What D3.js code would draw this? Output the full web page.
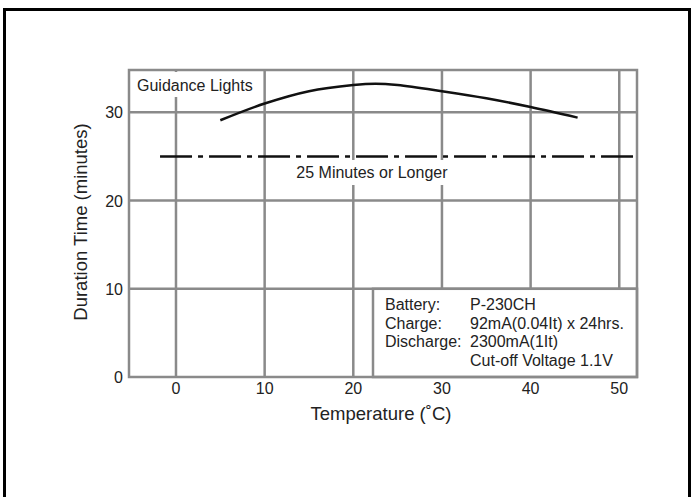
<!DOCTYPE html>
<html><head><meta charset="utf-8">
<script src="https://cdn.jsdelivr.net/npm/d3@7"></script>
<style>body{margin:0;background:#fff}svg{display:block}text{font-family:"Liberation Sans",Arial,sans-serif;fill:#222}</style>
</head><body>
<svg id="c" width="694" height="497"></svg>
<script>
const xTicks = [0, 10, 20, 30, 40, 50];
const yTicks = [0, 10, 20, 30];
const curveTemp = [5, 10, 15, 20, 22.5, 25, 30, 35, 40, 45.3];
const curveMinutes = [29.1, 31.0, 32.4, 33.1, 33.25, 33.1, 32.4, 31.6, 30.6, 29.4];
const limitTemp = [-1.8, 52];
const limitMinutes = [25, 25];
const notes = [["Battery:", "P-230CH"], ["Charge:", "92mA(0.04It) x 24hrs."], ["Discharge:", "2300mA(1It)"], ["", "Cut-off Voltage 1.1V"]];

const svg = d3.select("#c");
const x = d3.scaleLinear().domain([-5.3, 52]).range([129, 637]);
const y = d3.scaleLinear().domain([0, 34.8]).range([377, 70]);
const grid = "#8a8a8a";

// outer frame
svg.append("rect").attr("x", 4.5).attr("y", 9.5).attr("width", 685).attr("height", 500)
  .attr("fill", "none").attr("stroke", "#000").attr("stroke-width", 3);

// grid
svg.append("g").selectAll("line").data(xTicks.filter(d => d > x.domain()[0])).join("line")
  .attr("x1", d => x(d)).attr("x2", d => x(d)).attr("y1", y(0)).attr("y2", y.range()[1])
  .attr("stroke", grid).attr("stroke-width", 2.5);
svg.append("g").selectAll("line").data(yTicks.filter(d => d > 0)).join("line")
  .attr("x1", x.range()[0]).attr("x2", x.range()[1]).attr("y1", d => y(d)).attr("y2", d => y(d))
  .attr("stroke", grid).attr("stroke-width", 2.5);

// label background
svg.append("rect").attr("x", 131).attr("y", 72).attr("width", 124).attr("height", 25).attr("fill", "#fff");

// limit line
const limit = limitTemp.map((t, i) => [t, limitMinutes[i]]);
svg.append("path").datum(limit)
  .attr("d", d3.line().x(d => x(d[0])).y(d => y(d[1])))
  .attr("stroke", "#111").attr("stroke-width", 2.5).attr("fill", "none")
  .attr("stroke-dasharray", "32,6,5,6");

svg.append("rect").attr("x", 290).attr("y", 160).attr("width", 166).attr("height", 25).attr("fill", "#fff");
svg.append("text").attr("x", x(22.1)).attr("y", 178).attr("text-anchor", "middle")
  .attr("font-size", 16).text("25 Minutes or Longer");

// curve
const pts = curveTemp.map((t, i) => [t, curveMinutes[i]]);
svg.append("path").datum(pts)
  .attr("d", d3.line().x(d => x(d[0])).y(d => y(d[1])).curve(d3.curveCatmullRom))
  .attr("stroke", "#111").attr("stroke-width", 2.5).attr("fill", "none");

svg.append("text").attr("x", 137).attr("y", 91).attr("font-size", 16).text("Guidance Lights");

// note box
const bx0 = 373, by0 = y(10);
svg.append("rect").attr("x", bx0).attr("y", by0).attr("width", x.range()[1] - bx0).attr("height", y(0) - by0)
  .attr("fill", "#fff").attr("stroke", grid).attr("stroke-width", 2.5);
const ng = svg.append("g");
notes.forEach((n, i) => {
  ng.append("text").attr("x", 385).attr("y", 310 + i * 18.7).attr("font-size", 16).text(n[0]);
  ng.append("text").attr("x", 470).attr("y", 310 + i * 18.7).attr("font-size", 16).text(n[1]);
});

// plot border
svg.append("rect").attr("x", x.range()[0]).attr("y", y.range()[1])
  .attr("width", x.range()[1] - x.range()[0]).attr("height", y(0) - y.range()[1])
  .attr("fill", "none").attr("stroke", grid).attr("stroke-width", 2.5);

// tick labels
svg.append("g").selectAll("text").data(xTicks).join("text")
  .attr("x", d => x(d)).attr("y", 394).attr("text-anchor", "middle").attr("font-size", 16).text(d => d);
svg.append("g").selectAll("text").data(yTicks).join("text")
  .attr("x", 123).attr("y", d => y(d) + 6).attr("text-anchor", "end").attr("font-size", 16).text(d => d);

// axis titles
svg.append("text").attr("x", 381).attr("y", 420).attr("text-anchor", "middle").attr("font-size", 18.5)
  .text("Temperature (˚C)");
svg.append("text").attr("transform", "translate(87,222) rotate(-90)").attr("text-anchor", "middle")
  .attr("font-size", 18.5).text("Duration Time (minutes)");
</script>
</body></html>
